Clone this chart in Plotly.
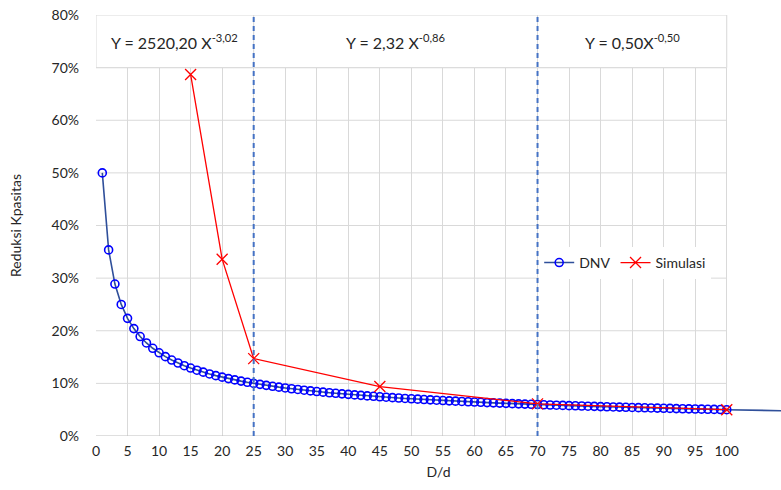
import plotly.graph_objects as go

# ---------------- data ----------------
DNV_X = list(range(1, 101))
DNV_Y = [0.5, 0.3536, 0.2887, 0.25, 0.2236, 0.2041, 0.1890, 0.1768, 0.1667, 0.1581,
         0.1508, 0.1443, 0.1387, 0.1336, 0.1291, 0.125, 0.1213, 0.1179, 0.1147, 0.1118,
         0.1091, 0.1066, 0.1043, 0.1021, 0.1, 0.0981, 0.0962, 0.0945, 0.0928, 0.0913,
         0.0898, 0.0884, 0.0870, 0.0857, 0.0845, 0.0833, 0.0822, 0.0811, 0.0801, 0.0791,
         0.0781, 0.0772, 0.0762, 0.0754, 0.0745, 0.0737, 0.0729, 0.0722, 0.0714, 0.0707,
         0.0700, 0.0693, 0.0687, 0.0680, 0.0674, 0.0668, 0.0662, 0.0657, 0.0651, 0.0645,
         0.0640, 0.0635, 0.0630, 0.0625, 0.0620, 0.0615, 0.0611, 0.0606, 0.0602, 0.0598,
         0.0593, 0.0589, 0.0585, 0.0581, 0.0577, 0.0574, 0.0570, 0.0566, 0.0563, 0.0559,
         0.0556, 0.0552, 0.0549, 0.0546, 0.0542, 0.0539, 0.0536, 0.0533, 0.0530, 0.0527,
         0.0524, 0.0521, 0.0518, 0.0516, 0.0513, 0.0510, 0.0508, 0.0505, 0.0503, 0.05]
DNV_TAIL_X = [100, 110]
DNV_TAIL_Y = [0.05, 0.0477]

SIM_X = [15, 20, 25, 45, 70, 100]
SIM_Y = [0.687, 0.336, 0.147, 0.094, 0.061, 0.050]

X_TICKS = list(range(0, 101, 5))
Y_TICKS = [0, 0.1, 0.2, 0.3, 0.4, 0.5, 0.6, 0.7, 0.8]
REGION_BOUNDS = [0, 25, 70, 100]
REGION_LABELS = ["Y = 2520,20 X<sup>-3,02</sup>",
                 "Y = 2,32 X<sup>-0,86</sup>",
                 "Y = 0,50X<sup>-0,50</sup>"]
DIVIDERS = [25, 70]

FONT = "Lato, 'Open Sans', sans-serif"
TXT = "#262626"
GRID = "#D9D9D9"

fig = go.Figure()

fig.add_trace(go.Scatter(x=DNV_TAIL_X, y=DNV_TAIL_Y, mode="lines",
                         line=dict(color="#2F4F9A", width=1.6),
                         showlegend=False, hoverinfo="skip"))
fig.add_trace(go.Scatter(x=DNV_X, y=DNV_Y, mode="lines+markers", name="DNV",
                         line=dict(color="#2F4F9A", width=1.6),
                         marker=dict(symbol="circle-open", size=8, color="#0000FF",
                                     line=dict(width=1.6, color="#0000FF"))))
fig.add_trace(go.Scatter(x=SIM_X, y=SIM_Y, mode="lines+markers", name="Simulasi",
                         line=dict(color="#FF0000", width=1.3),
                         marker=dict(symbol="x-thin-open", size=11, color="#FF0000",
                                     line=dict(width=1.3, color="#FF0000"))))

shapes = []
for yv in Y_TICKS:
    shapes.append(dict(type="line", xref="x", yref="y", x0=0, x1=100, y0=yv, y1=yv,
                       line=dict(color="#BFBFBF" if yv == 0 else GRID, width=1),
                       layer="between"))
for i in range(len(REGION_LABELS)):
    shapes.append(dict(type="rect", xref="x", yref="y",
                       x0=REGION_BOUNDS[i], x1=REGION_BOUNDS[i + 1], y0=0.7, y1=0.8,
                       fillcolor="white", line=dict(color=GRID, width=1), layer="above"))
for xv in DIVIDERS:
    shapes.append(dict(type="line", xref="x", yref="y", x0=xv, x1=xv, y0=0, y1=0.8,
                       line=dict(color="#4472C4", width=2, dash="5px,4px"), layer="above"))

annotations = []
for i, lab in enumerate(REGION_LABELS):
    annotations.append(dict(x=(REGION_BOUNDS[i] + REGION_BOUNDS[i + 1]) / 2, y=0.75,
                            xref="x", yref="y", text=lab, showarrow=False,
                            font=dict(family=FONT, size=16, color=TXT)))

fig.update_layout(
    width=781, height=490,
    margin=dict(l=95.5, r=0, t=15, b=54),
    paper_bgcolor="white", plot_bgcolor="white",
    font=dict(family=FONT, size=14, color=TXT),
    shapes=shapes, annotations=annotations,
    legend=dict(orientation="h", x=0.647, y=0.411, xanchor="left", yanchor="middle",
                bgcolor="white", font=dict(family=FONT, size=14, color=TXT),
                itemwidth=30),
    xaxis=dict(range=[0, 108.6], tickvals=X_TICKS, showgrid=True, gridcolor=GRID,
               gridwidth=1, zeroline=False, showline=False, ticks="",
               ticklabelstandoff=5,
               tickfont=dict(size=14, color=TXT),
               title=dict(text="D/d", font=dict(size=14, color=TXT), standoff=9)),
    yaxis=dict(range=[0, 0.8], tickvals=Y_TICKS, tickformat=".0%", showgrid=False,
               zeroline=False, showline=False, ticks="", ticklabelstandoff=16,
               tickfont=dict(size=14, color=TXT),
               title=dict(text="Reduksi Kpasitas", font=dict(size=14, color=TXT),
                          standoff=26)),
)

fig.write_html("out.html", config={"displayModeBar": False},
               post_script="document.body.style.margin='0';")
